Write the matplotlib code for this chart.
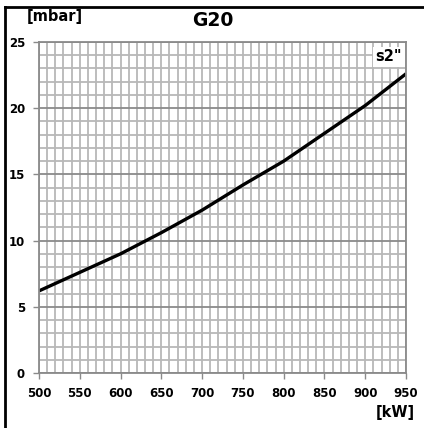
import matplotlib.pyplot as plt
from matplotlib.lines import Line2D
from matplotlib.ticker import MultipleLocator

# output [kW] vs pressure [mbar]
power_kw = [500, 550, 600, 650, 700, 750, 800, 850, 900, 950]
pressure_mbar = [6.2, 7.6, 9.0, 10.6, 12.3, 14.2, 16.0, 18.1, 20.2, 22.6]

x_ticks = [500, 550, 600, 650, 700, 750, 800, 850, 900, 950]
y_ticks = [0, 5, 10, 15, 20, 25]

plt.rcParams['font.family'] = ['DejaVu Sans']

fig = plt.figure(figsize=(4.24, 4.28), dpi=100)
ax = fig.add_axes([39 / 424, 1 - 373 / 428, 367 / 424, 331 / 428])

# grid: light lines every 10 kW / 1 mbar, darker every 5 mbar
ax.set_xlim(500, 950)
ax.set_ylim(0, 25)
ax.xaxis.set_major_locator(MultipleLocator(50))
ax.xaxis.set_minor_locator(MultipleLocator(10))
ax.yaxis.set_major_locator(MultipleLocator(5))
ax.yaxis.set_minor_locator(MultipleLocator(1))
ax.grid(which='both', axis='x', color='#b8b8b8', linewidth=1.3)
ax.grid(which='minor', axis='y', color='#b8b8b8', linewidth=1.3)
ax.grid(which='major', axis='y', color='#8a8a8a', linewidth=1.3)
ax.set_axisbelow(True)

ax.plot(power_kw, pressure_mbar, color='black', linewidth=2.4, solid_capstyle='butt')

tick_font = dict(fontsize=8.5, fontweight='bold')
ax.set_xticks(x_ticks)
ax.set_yticks(y_ticks)
ax.set_xticklabels([str(v) for v in x_ticks], **tick_font)
ax.set_yticklabels([str(v) for v in y_ticks], **tick_font)
ax.tick_params(which='major', length=4, width=1, color='#8a8a8a', pad=6)
ax.tick_params(which='minor', length=0)

for s in ax.spines.values():
    s.set_color('#8a8a8a')
    s.set_linewidth(1.3)

# labels and title
fig.text(27 / 424, 1 - 17 / 428, '[mbar]', fontsize=10.5, fontweight='bold', va='center', ha='left')
fig.text(213 / 424, 1 - 21 / 428, 'G20', fontsize=13.5, fontweight='bold', va='center', ha='center')
fig.text(415 / 424, 1 - 412 / 428, '[kW]', fontsize=10.5, fontweight='bold', va='center', ha='right')
ax.text(0.989, 0.955, 's2"', transform=ax.transAxes, fontsize=10.5, fontweight='bold',
        ha='right', va='center', bbox=dict(facecolor='white', edgecolor='none', pad=2))

# outer frame (top and left edges)
fig.add_artist(Line2D([5 / 424, 5 / 424], [0, 1 - 7 / 428], color='black', linewidth=2,
                      transform=fig.transFigure))
fig.add_artist(Line2D([5 / 424, 1], [1 - 7 / 428, 1 - 7 / 428], color='black', linewidth=2,
                      transform=fig.transFigure))

fig.savefig('out.png', dpi=100)
